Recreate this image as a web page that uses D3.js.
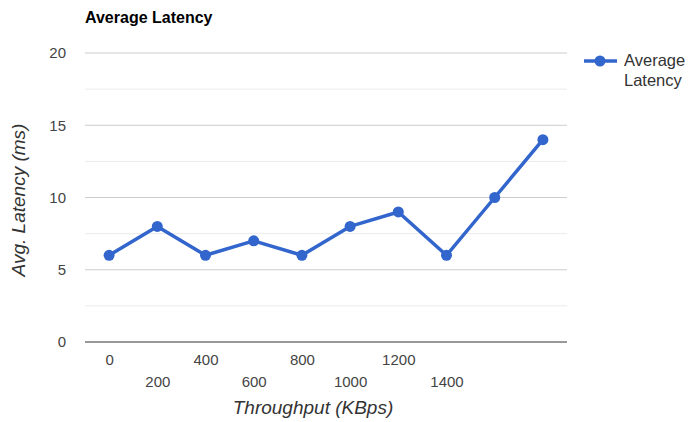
<!DOCTYPE html>
<html>
<head>
<meta charset="utf-8">
<script src="https://cdn.jsdelivr.net/npm/d3@7"></script>
<style>
  body { margin: 0; background: #fff; }
  svg { font-family: Arial, "Liberation Sans", sans-serif; display: block; }
</style>
</head>
<body>
<svg id="chart"></svg>
<script>
// Throughput categories (last two carry no label in the original)
const categories = ['0', '200', '400', '600', '800', '1000', '1200', '1400', '', ''];
const latency = [6, 8, 6, 7, 6, 8, 9, 6, 10, 14];
const yTicks = [0, 5, 10, 15, 20];
const yGrid = [2.5, 7.5, 12.5, 17.5];

const W = 688, H = 422;
const margin = { top: 53, right: 121, bottom: 80, left: 85 };
const width = W - margin.left - margin.right;
const height = H - margin.top - margin.bottom;

const svg = d3.select('#chart').attr('width', W).attr('height', H);
const g = svg.append('g').attr('transform', `translate(${margin.left},${margin.top})`);

const x = d3.scalePoint()
  .domain(d3.range(categories.length))
  .range([0, width])
  .padding(0.5);

const y = d3.scaleLinear().domain([0, 20]).range([height, 0]);

// minor gridlines
g.selectAll('.minor').data(yGrid).join('line')
  .attr('x1', 0).attr('x2', width)
  .attr('y1', d => y(d)).attr('y2', d => y(d))
  .attr('stroke', '#ebebeb').attr('stroke-width', 1);

// major gridlines
g.selectAll('.major').data(yTicks.filter(d => d > 0)).join('line')
  .attr('x1', 0).attr('x2', width)
  .attr('y1', d => y(d)).attr('y2', d => y(d))
  .attr('stroke', '#cccccc').attr('stroke-width', 1);

// baseline
g.append('line')
  .attr('x1', 0).attr('x2', width)
  .attr('y1', y(0)).attr('y2', y(0))
  .attr('stroke', '#333').attr('stroke-width', 1);

// y axis labels
g.append('g')
  .call(d3.axisLeft(y).tickValues(yTicks).tickSize(0).tickPadding(19))
  .call(a => a.select('.domain').remove())
  .selectAll('text')
  .attr('fill', '#444').style('font-size', '15px')
  .attr('font-family', 'Arial, "Liberation Sans", sans-serif');

// x axis labels, staggered on two rows
const xa = g.append('g')
  .attr('transform', `translate(0,${height})`)
  .call(d3.axisBottom(x).tickSize(0).tickFormat(i => categories[i]));
xa.select('.domain').remove();
xa.selectAll('text')
  .attr('y', (d, i) => i % 2 === 0 ? 12 : 34)
  .attr('fill', '#444').style('font-size', '15px')
  .attr('font-family', 'Arial, "Liberation Sans", sans-serif');

// line
const line = d3.line().x((d, i) => x(i)).y(d => y(d));
g.append('path')
  .datum(latency)
  .attr('d', line)
  .attr('fill', 'none')
  .attr('stroke', '#3366cc')
  .attr('stroke-width', 3.5)
  .attr('stroke-linejoin', 'round');

g.selectAll('.pt').data(latency).join('circle')
  .attr('cx', (d, i) => x(i)).attr('cy', d => y(d))
  .attr('r', 5.5).attr('fill', '#3366cc');

// title
svg.append('text')
  .attr('x', 85).attr('y', 23)
  .style('font-size', '16px').style('font-weight', 'bold')
  .attr('fill', '#000')
  .text('Average Latency');

// axis titles
svg.append('text')
  .attr('x', margin.left + width / 2 - 13).attr('y', 414)
  .attr('text-anchor', 'middle')
  .style('font-size', '19px').style('font-style', 'italic')
  .attr('fill', '#333')
  .text('Throughput (KBps)');

svg.append('text')
  .attr('transform', `translate(25,200) rotate(-90)`)
  .attr('text-anchor', 'middle')
  .style('font-size', '19px').style('font-style', 'italic')
  .attr('fill', '#333')
  .text('Avg. Latency (ms)');

// legend
const lg = svg.append('g').attr('transform', 'translate(584,61)');
lg.append('line').attr('x1', 0).attr('x2', 33).attr('y1', 0).attr('y2', 0)
  .attr('stroke', '#3366cc').attr('stroke-width', 3.5);
lg.append('circle').attr('cx', 16).attr('cy', 0).attr('r', 5.5).attr('fill', '#3366cc');
lg.append('text').attr('x', 40).attr('y', 5)
  .style('font-size', '16.5px').attr('fill', '#333').text('Average');
lg.append('text').attr('x', 40).attr('y', 25)
  .style('font-size', '16.5px').attr('fill', '#333').text('Latency');
</script>
</body>
</html>
